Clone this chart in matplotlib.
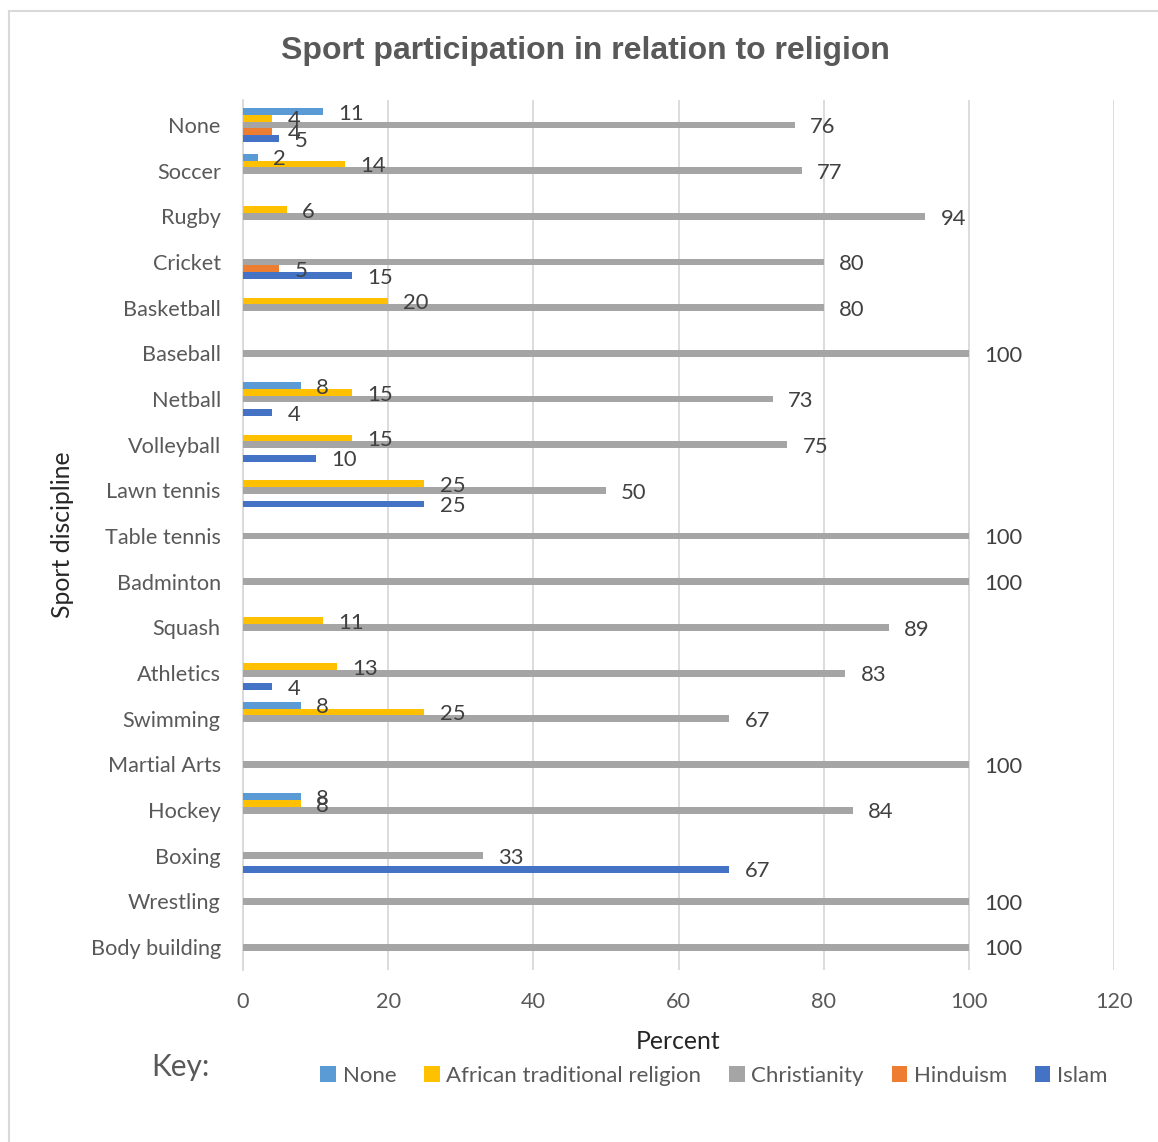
import matplotlib
matplotlib.use('Agg')
import matplotlib.pyplot as plt
from matplotlib.lines import Line2D
from matplotlib.patches import Patch
import numpy as np

sports = ["None", "Soccer", "Rugby", "Cricket", "Basketball", "Baseball",
          "Netball", "Volleyball", "Lawn tennis", "Table tennis", "Badminton",
          "Squash", "Athletics", "Swimming", "Martial Arts", "Hockey",
          "Boxing", "Wrestling", "Body building"]

none_vals = [11, 2, 0, 0, 0, 0, 8, 0, 0, 0, 0, 0, 0, 8, 0, 8, 0, 0, 0]
african_vals = [4, 14, 6, 0, 20, 0, 15, 15, 25, 0, 0, 11, 13, 25, 0, 8, 0, 0, 0]
christian_vals = [76, 77, 94, 80, 80, 100, 73, 75, 50, 100, 100, 89, 83, 67,
                  100, 84, 33, 100, 100]
hindu_vals = [4, 0, 0, 5, 0, 0, 0, 0, 0, 0, 0, 0, 0, 0, 0, 0, 0, 0, 0]
islam_vals = [5, 0, 0, 15, 0, 0, 4, 10, 25, 0, 0, 0, 4, 0, 0, 0, 67, 0, 0]

series_names = ["None", "African traditional religion", "Christianity",
                "Hinduism", "Islam"]
series_vals = [none_vals, african_vals, christian_vals, hindu_vals, islam_vals]
colors = ["#5B9BD5", "#FFC000", "#A5A5A5", "#ED7D31", "#4472C4"]

plt.rcParams['font.family'] = ['Lato', 'DejaVu Sans']
text_grey = "#595959"

fig = plt.figure(figsize=(11.58, 11.42), dpi=100)
ax = fig.add_axes([243 / 1158, 1 - 970 / 1142, (1114 - 243) / 1158,
                   (970 - 100) / 1142])

ypos = np.arange(len(sports))
h = 0.147
for i, (name, vals, col) in enumerate(zip(series_names, series_vals, colors)):
    for y, v in zip(ypos, vals):
        if v == 0:
            continue
        yy = y + (i - 2) * h
        ax.barh(yy, v, height=h, color=col, zorder=3)
        ax.annotate(str(v), (v, yy), xytext=(11, -1.5),
                    textcoords='offset points', ha='left', va='center',
                    fontsize=15.8, color="#404040", zorder=4)

ax.set_xlim(0, 120)
ax.set_ylim(18.5, -0.55)
ax.set_xticks(range(0, 121, 20))
ax.set_yticks(ypos)
ax.set_yticklabels(sports)
ax.grid(axis='x', color="#D9D9D9", linewidth=1.3, zorder=0)
for s in ['top', 'right', 'bottom']:
    ax.spines[s].set_visible(False)
ax.spines['left'].set_color("#D9D9D9")
ax.spines['left'].set_linewidth(1.3)
ax.tick_params(axis='both', length=0, labelsize=15.6, colors=text_grey)
ax.tick_params(axis='x', pad=16)
ax.tick_params(axis='y', pad=16)

ax.set_xlabel("Percent", fontsize=17.8, color="#262626", labelpad=13)
ax.set_ylabel("Sport discipline", fontsize=17.8, color="#262626", labelpad=12)

fig.text(585 / 1158, 1 - 51 / 1142, "Sport participation in relation to religion",
         ha='center', va='center', fontsize=23, fontweight='bold',
         color=text_grey, family='Liberation Sans')

fig.text(180 / 1158, 1 - 1067 / 1142, "Key:", ha='center', va='center',
         fontsize=21.5, color=text_grey)

handles = [Patch(facecolor=c, edgecolor='none') for c in colors]
fig.legend(handles, series_names, loc='center', ncol=5,
           bbox_to_anchor=(714 / 1158, 1 - 1076 / 1142), frameon=False,
           fontsize=16, labelcolor=text_grey, handlelength=0.7,
           handleheight=0.7, handletextpad=0.3, columnspacing=1.25)

# chart border (left and top edges visible)
fig.add_artist(Line2D([9 / 1158, 9 / 1158], [0, 1 - 11 / 1142],
                      color="#D9D9D9", linewidth=1.5))
fig.add_artist(Line2D([9 / 1158, 1], [1 - 11 / 1142, 1 - 11 / 1142],
                      color="#D9D9D9", linewidth=1.5))

fig.savefig("out.png", dpi=100)
plt.close(fig)
